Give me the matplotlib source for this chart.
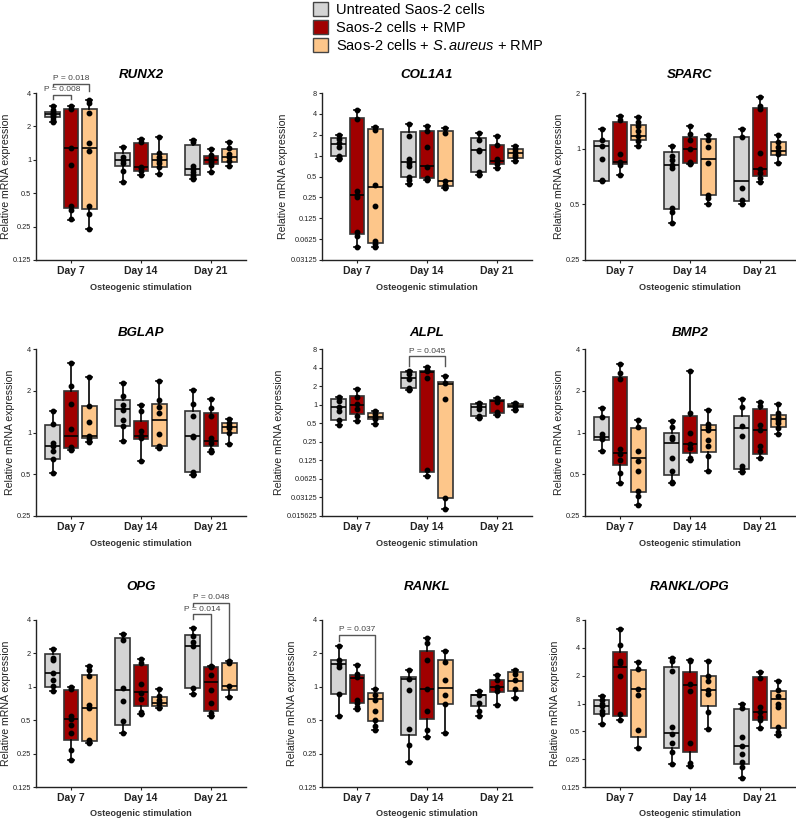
import matplotlib

matplotlib.use("Agg")

import matplotlib.pyplot as plt
from matplotlib.patches import Patch

plt.rcParams["font.family"] = ["Liberation Sans", "DejaVu Sans"]
plt.rcParams["mathtext.fontset"] = "custom"
plt.rcParams["mathtext.rm"] = "Liberation Sans"
plt.rcParams["mathtext.it"] = "Liberation Sans:italic"

DAYS = ["Day 7", "Day 14", "Day 21"]
GROUPS = ["Untreated Saos-2 cells", "Saos-2 cells + RMP",
          "Saos-2 cells + $\\it{S.aureus}$ + RMP"]
COLORS = ["#d4d4d4", "#a00000", "#fdc68a"]

# box stats per gene: (min, q1, median, q3, max), order day7 x3 groups, day14, day21
RUNX2_BOX = [
    (2.19, 2.43, 2.58, 2.69, 3.03), (0.287, 0.366, 1.29, 2.87, 3.03), (0.236, 0.359, 1.27, 2.87, 3.48),
    (0.63, 0.88, 1.0, 1.15, 1.30), (0.73, 0.785, 0.86, 1.43, 1.55), (0.74, 0.86, 1.0, 1.13, 1.59),
    (0.67, 0.73, 0.82, 1.37, 1.52), (0.77, 0.92, 1.0, 1.09, 1.26), (0.88, 0.95, 1.06, 1.25, 1.44),
]
RUNX2_PTS = [
    [3.03, 2.83, 2.68, 2.58, 2.51, 2.43, 2.30, 2.19], [3.03, 2.87, 1.29, 0.90, 0.38, 0.35, 0.29],
    [3.48, 3.25, 2.64, 1.41, 1.19, 0.387, 0.326, 0.236],
    [1.30, 1.07, 1.0, 0.93, 0.785, 0.63], [1.55, 1.46, 0.87, 0.84, 0.785, 0.73],
    [1.59, 1.16, 1.07, 1.0, 0.93, 0.87, 0.74],
    [1.52, 1.44, 0.88, 0.82, 0.77, 0.73, 0.70, 0.67], [1.26, 1.11, 1.04, 1.0, 0.95, 0.90, 0.77],
    [1.44, 1.27, 1.13, 1.05, 0.97, 0.88],
]

COL1A1_BOX = [
    (0.88, 1.0, 1.49, 1.78, 2.0), (0.048, 0.075, 0.274, 3.48, 4.6), (0.048, 0.055, 0.35, 2.45, 2.59),
    (0.39, 0.49, 0.80, 2.17, 2.89), (0.44, 0.48, 0.70, 2.29, 2.64), (0.34, 0.36, 0.43, 2.24, 2.5),
    (0.53, 0.58, 1.19, 1.78, 2.12), (0.66, 0.76, 0.83, 1.44, 1.9), (0.83, 0.93, 1.09, 1.26, 1.39),
]
COL1A1_PTS = [
    [2.0, 1.76, 1.52, 1.33, 1.0, 0.95, 0.88], [4.6, 3.4, 0.307, 0.274, 0.254, 0.079, 0.069, 0.048],
    [2.59, 2.37, 0.38, 0.187, 0.058, 0.054, 0.048],
    [2.89, 1.9, 0.88, 0.79, 0.70, 0.49, 0.45, 0.39], [2.64, 2.3, 1.33, 0.69, 0.48, 0.44],
    [2.5, 2.12, 0.43, 0.38, 0.36, 0.34],
    [2.12, 1.7, 1.22, 1.15, 0.58, 0.53], [1.9, 1.44, 0.9, 0.83, 0.76, 0.66],
    [1.39, 1.25, 1.12, 1.03, 0.96, 0.83],
]

SPARC_BOX = [
    (0.666, 0.67, 1.03, 1.10, 1.27), (0.72, 0.83, 0.85, 1.40, 1.51), (1.04, 1.12, 1.17, 1.35, 1.48),
    (0.397, 0.47, 0.82, 0.955, 1.04), (0.826, 0.837, 1.0, 1.156, 1.33), (0.5, 0.56, 0.88, 1.13, 1.19),
    (0.5, 0.52, 0.666, 1.15, 1.27), (0.66, 0.71, 0.78, 1.66, 1.9), (0.837, 0.92, 0.975, 1.08, 1.18),
]
SPARC_PTS = [
    [1.27, 1.12, 1.04, 0.88, 0.68, 0.67], [1.51, 1.43, 0.93, 0.85, 0.82, 0.72],
    [1.48, 1.40, 1.32, 1.24, 1.17, 1.10, 1.04],
    [1.04, 0.91, 0.865, 0.82, 0.787, 0.478, 0.453, 0.397], [1.33, 1.2, 1.12, 1.0, 0.85, 0.83],
    [1.19, 1.12, 1.02, 0.84, 0.565, 0.54, 0.5],
    [1.27, 1.15, 0.61, 0.53, 0.5], [1.9, 1.71, 1.64, 0.95, 0.78, 0.74, 0.69, 0.66],
    [1.18, 1.08, 1.02, 0.975, 0.93, 0.84],
]

BGLAP_BOX = [
    (0.51, 0.64, 0.80, 1.14, 1.44), (0.75, 0.77, 0.94, 2.0, 3.16), (0.86, 0.91, 0.94, 1.56, 2.53),
    (0.87, 1.12, 1.47, 1.72, 2.29), (0.62, 0.90, 0.95, 1.22, 1.58), (0.77, 0.80, 1.24, 1.6, 2.37),
    (0.49, 0.52, 0.94, 1.44, 2.03), (0.72, 0.80, 0.87, 1.38, 1.74), (0.82, 0.99, 1.10, 1.17, 1.26),
]
BGLAP_PTS = [
    [1.44, 1.16, 0.84, 0.80, 0.74, 0.64, 0.51], [3.16, 2.17, 1.6, 1.06, 0.79, 0.75],
    [2.53, 1.56, 1.2, 0.94, 0.90, 0.86],
    [2.29, 1.83, 1.58, 1.46, 1.24, 1.11, 0.87], [1.58, 1.43, 1.02, 0.95, 0.91, 0.62],
    [2.37, 1.72, 1.52, 1.38, 0.97, 0.80, 0.77],
    [2.03, 1.61, 1.31, 0.95, 0.93, 0.52, 0.50, 0.49], [1.74, 1.5, 1.31, 0.91, 0.84, 0.75, 0.72],
    [1.26, 1.17, 1.12, 1.08, 1.0, 0.82],
]

ALPL_BOX = [
    (0.476, 0.56, 0.90, 1.25, 1.33), (0.545, 0.70, 0.99, 1.38, 1.77), (0.48, 0.58, 0.63, 0.72, 0.79),
    (1.70, 1.88, 2.73, 3.36, 3.49), (0.0707, 0.080, 3.4, 3.49, 4.1), (0.020, 0.0305, 2.13, 2.32, 2.97),
    (0.61, 0.66, 0.90, 1.01, 1.08), (0.68, 0.74, 1.15, 1.17, 1.27), (0.82, 0.90, 0.95, 1.01, 1.08),
]
ALPL_PTS = [
    [1.33, 1.15, 0.93, 0.79, 0.56, 0.476], [1.77, 1.35, 1.01, 0.86, 0.66, 0.545],
    [0.79, 0.70, 0.64, 0.58, 0.48],
    [3.49, 3.2, 2.65, 1.88, 1.7], [4.1, 3.7, 3.49, 2.73, 0.088, 0.0707], [2.97, 2.26, 1.25, 0.0305, 0.020],
    [1.08, 0.95, 0.86, 0.66, 0.61], [1.27, 1.10, 0.76, 0.68], [1.08, 0.98, 0.92, 0.82],
]

BMP2_BOX = [
    (0.74, 0.88, 0.93, 1.30, 1.5), (0.43, 0.58, 0.714, 2.51, 3.12), (0.30, 0.37, 0.65, 1.08, 1.24),
    (0.43, 0.49, 0.84, 1.0, 1.21), (0.63, 0.714, 0.83, 1.31, 2.79), (0.53, 0.726, 1.04, 1.13, 1.46),
    (0.52, 0.55, 1.08, 1.31, 1.73), (0.66, 0.70, 1.04, 1.48, 1.66), (0.97, 1.1, 1.26, 1.33, 1.61),
]
BMP2_PTS = [
    [1.5, 1.3, 0.97, 0.93, 0.90, 0.74], [3.12, 2.69, 2.43, 0.755, 0.695, 0.63, 0.51, 0.43],
    [1.24, 1.1, 0.73, 0.62, 0.53, 0.38, 0.35, 0.30],
    [1.21, 1.09, 0.93, 0.905, 0.66, 0.53, 0.44, 0.43], [2.79, 1.38, 1.0, 0.82, 0.775, 0.66, 0.63],
    [1.46, 1.16, 1.1, 1.05, 0.89, 0.80, 0.68, 0.53],
    [1.73, 1.53, 1.11, 0.95, 0.57, 0.55, 0.52], [1.66, 1.56, 1.14, 1.05, 0.80, 0.73, 0.66],
    [1.61, 1.38, 1.30, 1.24, 1.17, 1.08, 0.97],
]

OPG_BOX = [
    (0.91, 1.0, 1.34, 1.98, 2.18), (0.218, 0.33, 0.51, 0.94, 1.0), (0.31, 0.323, 0.648, 1.29, 1.54),
    (0.383, 0.45, 0.94, 2.73, 2.97), (0.57, 0.67, 0.89, 1.58, 1.77), (0.64, 0.67, 0.72, 0.81, 0.95),
    (0.86, 0.97, 2.35, 2.93, 3.41), (0.55, 0.60, 1.10, 1.50, 1.54), (0.81, 0.94, 1.02, 1.63, 1.71),
]
OPG_PTS = [
    [2.18, 1.81, 1.75, 1.34, 1.16, 1.01, 0.91], [1.0, 0.95, 0.54, 0.51, 0.455, 0.38, 0.268, 0.218],
    [1.54, 1.42, 1.24, 0.69, 0.644, 0.33, 0.31],
    [2.97, 2.64, 0.97, 0.75, 0.49, 0.383], [1.77, 1.63, 1.06, 0.88, 0.775, 0.59, 0.57],
    [0.95, 0.82, 0.765, 0.70, 0.64],
    [3.41, 2.87, 2.55, 2.35, 0.97, 0.86], [1.54, 1.5, 1.28, 0.94, 0.71, 0.58, 0.55],
    [1.71, 1.63, 1.01, 0.81],
]

RANKL_BOX = [
    (0.55, 0.865, 1.61, 1.75, 2.31), (0.63, 0.71, 1.2, 1.29, 1.58), (0.405, 0.49, 0.77, 0.877, 0.96),
    (0.21, 0.365, 1.18, 1.22, 1.42), (0.35, 0.515, 0.96, 2.09, 2.76), (0.38, 0.70, 0.98, 1.73, 2.09),
    (0.54, 0.665, 0.84, 0.85, 0.91), (0.69, 0.89, 1.0, 1.16, 1.29), (0.79, 0.91, 1.12, 1.35, 1.42),
]
RANKL_PTS = [
    [2.31, 1.73, 1.61, 1.52, 0.865, 0.55], [1.58, 1.31, 1.22, 0.76, 0.71, 0.66, 0.63],
    [0.96, 0.84, 0.76, 0.61, 0.50, 0.44, 0.405],
    [1.42, 1.18, 0.93, 0.42, 0.30, 0.21], [2.76, 2.47, 1.76, 0.96, 0.61, 0.41, 0.35],
    [2.09, 1.67, 1.16, 0.84, 0.70, 0.38],
    [0.91, 0.84, 0.71, 0.60, 0.54], [1.29, 1.14, 1.0, 0.91, 0.69], [1.42, 1.31, 1.16, 0.96, 0.79],
]

RANKL_OPG_BOX = [
    (0.60, 0.77, 0.95, 1.10, 1.22), (0.667, 0.73, 2.51, 3.64, 6.4), (0.33, 0.43, 1.44, 2.31, 2.79),
    (0.22, 0.33, 0.48, 2.51, 3.08), (0.21, 0.30, 1.59, 2.21, 2.98), (0.53, 0.93, 1.41, 1.96, 2.86),
    (0.158, 0.224, 0.35, 0.876, 1.0), (0.54, 0.655, 0.81, 1.92, 2.18), (0.46, 0.54, 1.12, 1.38, 1.74),
]
RANKL_OPG_PTS = [
    [1.22, 1.08, 0.99, 0.93, 0.84, 0.77, 0.60], [6.4, 4.29, 2.91, 2.72, 1.96, 0.77, 0.667],
    [2.79, 2.37, 1.44, 1.24, 0.52, 0.33],
    [3.08, 2.86, 2.27, 0.556, 0.47, 0.37, 0.30, 0.22], [2.98, 2.86, 1.63, 1.36, 0.37, 0.23, 0.21],
    [2.86, 1.96, 1.77, 1.41, 1.27, 0.81, 0.53],
    [1.0, 0.9, 0.43, 0.35, 0.287, 0.233, 0.205, 0.158], [2.18, 1.89, 0.91, 0.81, 0.72, 0.655, 0.54],
    [1.74, 1.40, 1.22, 1.0, 0.91, 0.555, 0.49, 0.46],
]

GENES = ["RUNX2", "COL1A1", "SPARC", "BGLAP", "ALPL", "BMP2", "OPG", "RANKL", "RANKL/OPG"]
BOXES = [RUNX2_BOX, COL1A1_BOX, SPARC_BOX, BGLAP_BOX, ALPL_BOX, BMP2_BOX, OPG_BOX, RANKL_BOX, RANKL_OPG_BOX]
POINTS = [RUNX2_PTS, COL1A1_PTS, SPARC_PTS, BGLAP_PTS, ALPL_PTS, BMP2_PTS, OPG_PTS, RANKL_PTS, RANKL_OPG_PTS]
# y-axis range as log2 exponents
Y_EXP = [(-3, 2), (-5, 3), (-2, 1), (-2, 2), (-6, 3), (-2, 2), (-3, 2), (-3, 2), (-3, 3)]

# significance brackets: gene, day, group a, group b, bar y, drop y at a, drop y at b, label
BRACKETS = [
    ("RUNX2", 0, 0, 1, 3.86, 3.53, 3.50, "P = 0.008"),
    ("RUNX2", 0, 0, 2, 4.86, 4.62, 4.14, "P = 0.018"),
    ("ALPL", 1, 0, 2, 6.1, 4.2, 4.2, "P = 0.045"),
    ("OPG", 2, 0, 1, 4.5, 4.05, 1.56, "P = 0.014"),
    ("OPG", 2, 0, 2, 5.72, 5.35, 1.75, "P = 0.048"),
    ("RANKL", 0, 0, 2, 2.96, 2.61, 1.0, "P = 0.037"),
]

W, H = 796, 818
COL_LEFT = [36, 322, 585]
ROW_TOP = [93, 349, 620]
TITLE_Y = [75, 333, 587]
AX_W, AX_H = 210, 167
OFFSETS = [-0.26, 0.0, 0.26]
INK = "#222222"

fig = plt.figure(figsize=(W / 100, H / 100), dpi=100)

axes = {}
for i, gene in enumerate(GENES):
    r, c = divmod(i, 3)
    left, top = COL_LEFT[c], ROW_TOP[r]
    ax = fig.add_axes([left / W, 1 - (top + AX_H) / H, AX_W / W, AX_H / H])
    axes[gene] = ax

    stats = [dict(whislo=s[0], q1=s[1], med=s[2], q3=s[3], whishi=s[4]) for s in BOXES[i]]
    pos = [d + OFFSETS[g] for d in range(3) for g in range(3)]
    art = ax.bxp(stats, positions=pos, widths=0.21, capwidths=0.09, patch_artist=True,
                 showfliers=False, manage_ticks=False,
                 boxprops=dict(edgecolor="#333333", linewidth=1.2),
                 medianprops=dict(color="black", linewidth=1.2),
                 whiskerprops=dict(color="black", linewidth=1.2),
                 capprops=dict(color="black", linewidth=1.2))
    for k, patch in enumerate(art["boxes"]):
        patch.set_facecolor(COLORS[k % 3])
    for k, vals in enumerate(POINTS[i]):
        ax.plot([pos[k]] * len(vals), vals, "o", ms=3.2, color="black", zorder=4, clip_on=False)

    lo, hi = Y_EXP[i]
    ticks = [2.0 ** e for e in range(lo, hi + 1)]
    ax.set_yscale("log", base=2)
    ax.set_ylim(ticks[0], ticks[-1])
    ax.set_yticks(ticks)
    ax.set_yticklabels([f"{t:g}" for t in ticks])
    ax.yaxis.set_minor_locator(matplotlib.ticker.NullLocator())
    ax.set_xlim(-0.5, 2.5)
    ax.set_xticks(range(3))
    ax.set_xticklabels(DAYS, fontsize=7.5, fontweight="bold", color=INK)
    ax.tick_params(axis="y", labelsize=5.3, length=2.5, pad=1, colors=INK)
    ax.tick_params(axis="x", length=2.5, pad=1.5, colors=INK)
    for side in ("top", "right"):
        ax.spines[side].set_visible(False)
    for side in ("left", "bottom"):
        ax.spines[side].set_color(INK)
        ax.spines[side].set_linewidth(1.0)
    ax.set_ylabel("Relative mRNA expression", fontsize=7.6, color=INK, labelpad=1.5)
    ax.set_xlabel("Osteogenic stimulation", fontsize=6.6, fontweight="bold", color="#333333", labelpad=5)

    fig.text((left + AX_W / 2) / W, 1 - TITLE_Y[r] / H, gene, ha="center", va="center",
             fontsize=9.5, fontweight="bold", fontstyle="italic", color="black")

for gene, day, ga, gb, ybar, ya, yb, label in BRACKETS:
    ax = axes[gene]
    xa, xb = day + OFFSETS[ga], day + OFFSETS[gb]
    ax.plot([xa, xa, xb, xb], [ya, ybar, ybar, yb], color="#555555", lw=1.0, clip_on=False)
    ax.text((xa + xb) / 2, ybar * 1.03, label, ha="center", va="bottom", fontsize=6,
            color="#444444", clip_on=False)

handles = [Patch(facecolor=c, edgecolor="#444444", linewidth=1.0) for c in COLORS]
fig.legend(handles, GROUPS, loc="upper left", bbox_to_anchor=(313 / W, 0.997), frameon=False,
           fontsize=10.5, handlelength=1.05, handleheight=1.05, handletextpad=0.55,
           labelspacing=0.2, borderpad=0, borderaxespad=0)

fig.savefig("out.png", dpi=100)
